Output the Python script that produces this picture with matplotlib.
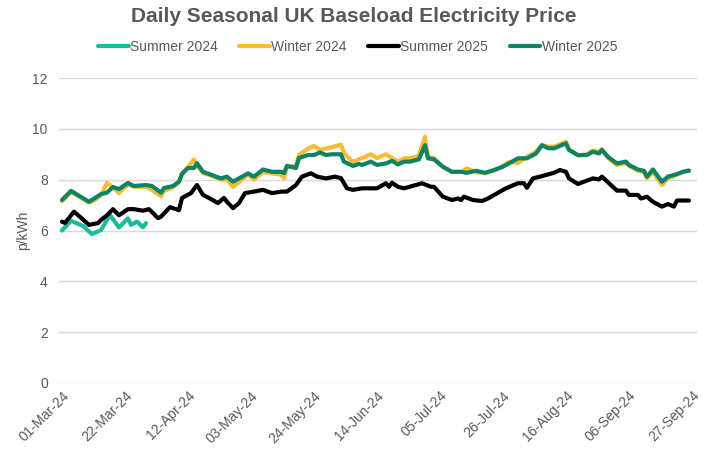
import numpy as np
import pandas as pd
from matplotlib import pyplot as plt
import matplotlib.dates as mdates

plt.rcParams['font.family'] = ['Liberation Sans', 'DejaVu Sans']

start = pd.Timestamp('2024-03-01')

# day offsets from 01-Mar-24 and prices (p/kWh)
s24_days = [0, 3, 7, 10, 13, 16, 19, 22, 23, 25, 27, 28]
s24_vals = [6.00, 6.38, 6.18, 5.86, 6.02, 6.61, 6.12, 6.48, 6.22, 6.35, 6.13, 6.29]

w_days = [0, 3, 4, 9, 11, 13, 15, 17, 19, 22, 24, 28, 30, 33, 34, 37, 39, 40, 42, 44,
          45, 47, 50, 53, 55, 57, 59, 62, 64, 67, 70, 73, 74, 75, 78, 79, 82, 84, 86, 88,
          90, 93, 94, 97, 99, 100, 103, 105, 108, 110, 112, 114, 116, 118, 119, 121, 122, 124, 127, 130,
          133, 135, 138, 141, 144, 147, 149, 152, 155, 158, 160, 162, 164, 168, 169, 172, 175, 177, 179, 180,
          182, 185, 188, 189, 192, 194, 195, 197, 200, 202, 204, 207, 209]
w25_vals = [7.20, 7.56, 7.49, 7.13, 7.28, 7.43, 7.49, 7.71, 7.63, 7.87, 7.75, 7.79, 7.75, 7.49, 7.67, 7.75, 7.92, 8.22, 8.46, 8.46,
            8.65, 8.31, 8.18, 8.05, 8.12, 7.92, 8.05, 8.25, 8.12, 8.40, 8.31, 8.31, 8.26, 8.54, 8.46, 8.85, 8.97, 8.97, 9.07, 8.97,
            9.00, 9.00, 8.71, 8.54, 8.62, 8.58, 8.71, 8.58, 8.64, 8.74, 8.60, 8.71, 8.71, 8.77, 8.80, 9.36, 8.84, 8.80, 8.51, 8.31,
            8.31, 8.27, 8.35, 8.27, 8.38, 8.51, 8.64, 8.84, 8.84, 9.03, 9.36, 9.24, 9.23, 9.43, 9.17, 8.97, 8.97, 9.10, 9.03, 9.17,
            8.90, 8.64, 8.71, 8.58, 8.40, 8.35, 8.12, 8.40, 7.92, 8.12, 8.18, 8.31, 8.35]
w24_vals = [7.15, 7.50, 7.45, 7.10, 7.20, 7.40, 7.87, 7.70, 7.47, 7.82, 7.72, 7.72, 7.60, 7.35, 7.55, 7.70, 7.90, 8.25, 8.50, 8.80,
            8.55, 8.26, 8.15, 8.00, 8.00, 7.72, 7.90, 8.20, 8.00, 8.30, 8.25, 8.20, 8.06, 8.50, 8.55, 8.97, 9.22, 9.33, 9.17, 9.23,
            9.28, 9.38, 9.05, 8.70, 8.80, 8.85, 9.00, 8.85, 9.00, 8.85, 8.71, 8.84, 8.85, 8.90, 8.95, 9.69, 8.90, 8.85, 8.50, 8.30,
            8.30, 8.44, 8.30, 8.25, 8.35, 8.55, 8.70, 8.66, 8.90, 9.10, 9.36, 9.30, 9.30, 9.49, 9.20, 8.95, 9.00, 9.15, 9.10, 9.20,
            8.85, 8.58, 8.65, 8.55, 8.35, 8.30, 8.05, 8.30, 7.79, 8.05, 8.15, 8.30, 8.38]

s25_days = [0, 1, 4, 6, 9, 12, 13, 15, 17, 19, 22, 24, 27, 29, 32, 33, 36, 39, 40, 43,
            45, 47, 49, 52, 54, 55, 57, 59, 61, 64, 67, 70, 73, 75, 78, 80, 83, 85, 88, 91,
            93, 95, 97, 100, 103, 105, 108, 109, 110, 112, 114, 118, 120, 123, 124, 127, 130, 132, 133, 134,
            137, 140, 142, 145, 148, 152, 154, 155, 157, 160, 164, 166, 168, 169, 172, 174, 177, 179, 180, 183,
            185, 188, 189, 192, 193, 195, 197, 200, 202, 204, 205, 209]
s25_vals = [6.35, 6.30, 6.74, 6.54, 6.22, 6.29, 6.41, 6.60, 6.84, 6.60, 6.84, 6.84, 6.78, 6.84, 6.49, 6.54, 6.92, 6.80, 7.28, 7.47,
            7.79, 7.40, 7.28, 7.08, 7.28, 7.13, 6.88, 7.08, 7.47, 7.53, 7.60, 7.47, 7.53, 7.53, 7.79, 8.12, 8.25, 8.12, 8.05, 8.12,
            8.06, 7.66, 7.60, 7.66, 7.66, 7.66, 7.86, 7.72, 7.88, 7.72, 7.66, 7.79, 7.86, 7.72, 7.72, 7.33, 7.20, 7.26, 7.20, 7.33,
            7.20, 7.16, 7.26, 7.46, 7.66, 7.86, 7.86, 7.68, 8.05, 8.14, 8.27, 8.38, 8.31, 8.05, 7.83, 7.92, 8.05, 8.01, 8.12, 7.79,
            7.57, 7.57, 7.40, 7.40, 7.26, 7.33, 7.13, 6.94, 7.04, 6.94, 7.18, 7.18]


def to_dates(days):
    return start + pd.to_timedelta(days, unit='D')


grey = '#595959'
fig = plt.figure(figsize=(7.08, 4.51), dpi=100)
ax = fig.add_axes([0.0833, 0.1508, 0.9012, 0.6762])

lw = 3.0
ax.plot(to_dates(s24_days), s24_vals, color='#1ABC9C', lw=lw, label='Summer 2024', solid_capstyle='round')
ax.plot(to_dates(w_days), w24_vals, color='#FBBC34', lw=lw, label='Winter 2024', solid_capstyle='round')
ax.plot(to_dates(s25_days), s25_vals, color='black', lw=lw, label='Summer 2025', solid_capstyle='round')
ax.plot(to_dates(w_days), w25_vals, color='#0B8466', lw=lw, label='Winter 2025', solid_capstyle='round')

ax.set_ylim(0, 12)
ax.set_yticks(range(0, 13, 2))
ax.set_xlim(start - pd.Timedelta(days=1), start + pd.Timedelta(days=211.7))
ax.set_xticks(to_dates(list(range(0, 211, 21))))
ax.xaxis.set_major_formatter(mdates.DateFormatter('%d-%b-%y'))
for lab in ax.get_xticklabels():
    lab.set_rotation(45)
    lab.set_ha('right')
    lab.set_rotation_mode('anchor')

ax.grid(axis='y', color='#D9D9D9', lw=1)
ax.set_axisbelow(True)
for sp in ax.spines.values():
    sp.set_visible(False)
ax.tick_params(axis='both', length=0, labelsize=10, labelcolor=grey, pad=8)
ax.tick_params(axis='x', pad=4)
ax.set_ylabel('p/kWh', fontsize=10, color=grey, labelpad=1.5)

fig.text(0.5, 0.963, 'Daily Seasonal UK Baseload Electricity Price', ha='center', va='center',
         fontsize=15, fontweight='bold', color=grey)
fig.legend(loc='center', bbox_to_anchor=(0.505, 0.896), ncol=4, frameon=False, fontsize=10,
           handlelength=2.2, handletextpad=0.1, columnspacing=1.55, labelcolor=grey)

fig.savefig('out.png', dpi=100)
